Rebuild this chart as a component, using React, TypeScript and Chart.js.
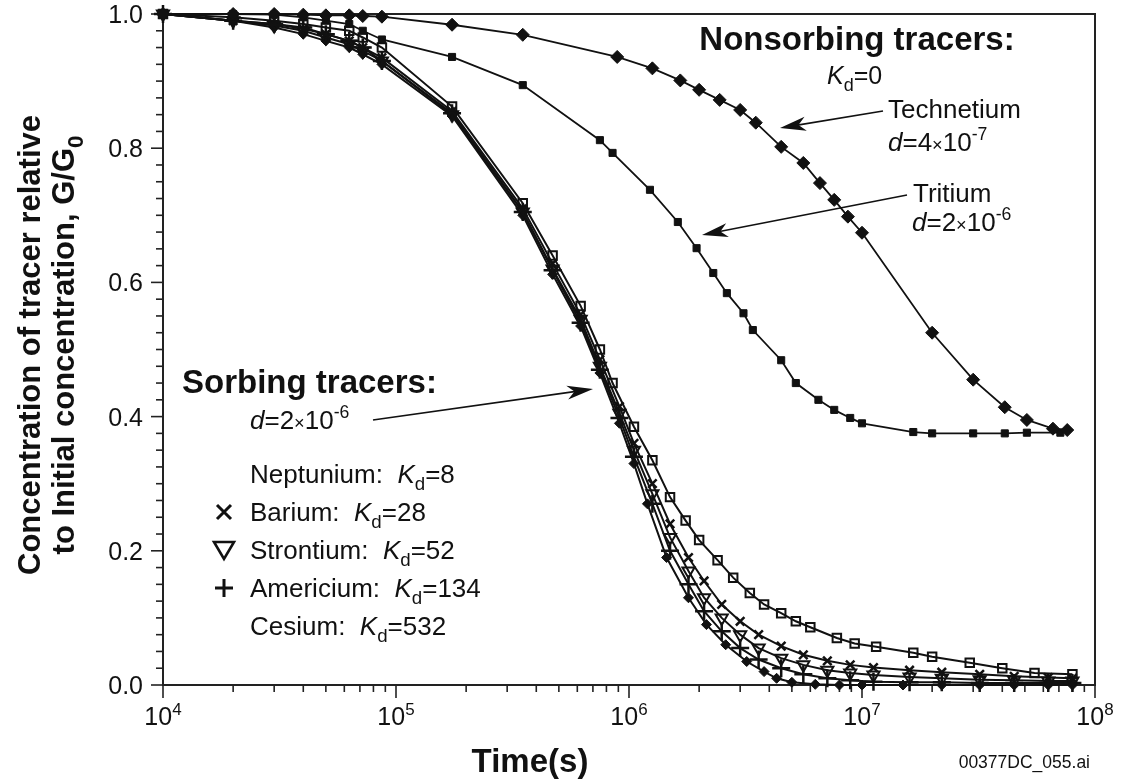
import { useEffect, useRef } from 'react';
import { Chart, registerables } from 'chart.js';

Chart.register(...registerables);

const FONT = '"Liberation Sans", Arial, Helvetica, sans-serif';

// ---------- axis ticks ----------
const yTickValues = [0, 0.2, 0.4, 0.6, 0.8, 1.0];
const yTickLabels = ['0.0', '0.2', '0.4', '0.6', '0.8', '1.0'];
const xDecades = [1e4, 1e5, 1e6, 1e7, 1e8];
const xExponents = ['4', '5', '6', '7', '8'];

// ---------- nonsorbing tracers ----------
const technetiumT = [1e4, 2e4, 3e4, 4e4, 5e4, 6.3e4, 7.2e4, 8.7e4, 1.74e5, 3.5e5, 8.9e5, 1.26e6, 1.66e6, 2.0e6, 2.45e6, 3.0e6, 3.5e6, 4.5e6, 5.6e6, 6.6e6, 7.6e6, 8.7e6, 1.0e7, 2.0e7, 3.0e7, 4.1e7, 5.1e7, 6.6e7, 7.6e7];
const technetiumG = [1.0, 1.0, 1.0, 0.999, 0.998, 0.998, 0.997, 0.996, 0.984, 0.969, 0.936, 0.919, 0.901, 0.887, 0.872, 0.857, 0.838, 0.802, 0.778, 0.748, 0.723, 0.698, 0.674, 0.525, 0.455, 0.414, 0.395, 0.382, 0.380];

const tritiumT = [1e4, 2e4, 3e4, 4e4, 5e4, 6.3e4, 7.2e4, 8.7e4, 1.74e5, 3.5e5, 7.5e5, 8.5e5, 1.23e6, 1.62e6, 1.95e6, 2.3e6, 2.63e6, 3.1e6, 3.4e6, 4.5e6, 5.2e6, 6.5e6, 7.6e6, 8.9e6, 1.0e7, 1.66e7, 2.0e7, 3.0e7, 4.1e7, 5.1e7, 7.1e7];
const tritiumG = [1.0, 1.0, 0.999, 0.995, 0.99, 0.985, 0.975, 0.962, 0.936, 0.894, 0.812, 0.793, 0.738, 0.69, 0.651, 0.614, 0.584, 0.554, 0.529, 0.484, 0.45, 0.425, 0.41, 0.398, 0.39, 0.377, 0.375, 0.375, 0.375, 0.376, 0.376];

// ---------- sorbing tracers ----------
const neptuniumT = [1e4, 2e4, 3e4, 4e4, 5e4, 6.3e4, 7.2e4, 8.7e4, 1.74e5, 3.5e5, 4.7e5, 6.2e5, 7.5e5, 8.5e5, 1.05e6, 1.26e6, 1.5e6, 1.75e6, 2.0e6, 2.4e6, 2.8e6, 3.3e6, 3.8e6, 4.5e6, 5.2e6, 6.0e6, 7.8e6, 9.3e6, 1.15e7, 1.66e7, 2.0e7, 2.9e7, 4.0e7, 5.5e7, 8.0e7];
const neptuniumG = [1.0, 0.995, 0.99, 0.985, 0.98, 0.975, 0.965, 0.95, 0.862, 0.718, 0.64, 0.565, 0.5, 0.45, 0.385, 0.335, 0.28, 0.245, 0.216, 0.186, 0.16, 0.137, 0.12, 0.107, 0.095, 0.086, 0.07, 0.062, 0.057, 0.048, 0.042, 0.033, 0.025, 0.018, 0.016];

const bariumT = [1e4, 2e4, 3e4, 4e4, 5e4, 6.3e4, 7.2e4, 8.7e4, 1.74e5, 3.5e5, 4.7e5, 6.2e5, 7.5e5, 9.1e5, 1.05e6, 1.26e6, 1.5e6, 1.8e6, 2.1e6, 2.5e6, 3.0e6, 3.6e6, 4.5e6, 5.6e6, 7.1e6, 8.9e6, 1.12e7, 1.6e7, 2.2e7, 3.2e7, 4.5e7, 6.3e7, 8.0e7];
const bariumG = [1.0, 0.99, 0.985, 0.978, 0.97, 0.96, 0.95, 0.935, 0.855, 0.71, 0.628, 0.552, 0.485, 0.415, 0.36, 0.3, 0.24, 0.19, 0.155, 0.12, 0.095, 0.075, 0.058, 0.045, 0.036, 0.03, 0.026, 0.022, 0.019, 0.016, 0.013, 0.011, 0.01];

const strontiumT = [1e4, 2e4, 3e4, 4e4, 5e4, 6.3e4, 7.2e4, 8.7e4, 1.74e5, 3.5e5, 4.7e5, 6.2e5, 7.5e5, 9.1e5, 1.05e6, 1.26e6, 1.5e6, 1.8e6, 2.1e6, 2.5e6, 3.0e6, 3.6e6, 4.5e6, 5.6e6, 7.1e6, 8.9e6, 1.12e7, 1.6e7, 2.2e7, 3.2e7, 4.5e7, 6.3e7, 8.0e7];
const strontiumG = [1.0, 0.99, 0.983, 0.975, 0.965, 0.955, 0.945, 0.93, 0.85, 0.705, 0.62, 0.545, 0.475, 0.405, 0.35, 0.285, 0.22, 0.17, 0.13, 0.1, 0.075, 0.055, 0.04, 0.03, 0.022, 0.018, 0.015, 0.012, 0.01, 0.008, 0.007, 0.006, 0.006];

const americiumT = [1e4, 2e4, 3e4, 4e4, 5e4, 6.3e4, 7.2e4, 8.7e4, 1.74e5, 3.5e5, 4.7e5, 6.2e5, 7.5e5, 9.1e5, 1.05e6, 1.26e6, 1.5e6, 1.8e6, 2.1e6, 2.5e6, 3.0e6, 3.6e6, 4.5e6, 5.6e6, 7.1e6, 8.9e6, 1.12e7, 1.6e7, 2.2e7, 3.2e7, 4.5e7, 6.3e7, 8.0e7];
const americiumG = [1.0, 0.99, 0.985, 0.98, 0.97, 0.96, 0.95, 0.93, 0.852, 0.705, 0.618, 0.54, 0.47, 0.398, 0.34, 0.27, 0.2, 0.15, 0.11, 0.08, 0.055, 0.038, 0.025, 0.016, 0.01, 0.007, 0.005, 0.004, 0.004, 0.003, 0.003, 0.003, 0.003];

const cesiumT = [1e4, 2e4, 3e4, 4e4, 5e4, 6.3e4, 7.2e4, 8.7e4, 1.74e5, 3.5e5, 4.7e5, 6.2e5, 7.5e5, 9.1e5, 1.05e6, 1.2e6, 1.45e6, 1.8e6, 2.15e6, 2.6e6, 3.2e6, 3.8e6, 4.3e6, 5.0e6, 6.3e6, 8.0e6, 1.0e7, 1.5e7, 2.2e7, 3.2e7, 4.5e7, 6.3e7, 8.0e7];
const cesiumG = [1.0, 0.99, 0.98, 0.97, 0.96, 0.95, 0.94, 0.925, 0.848, 0.7, 0.612, 0.535, 0.465, 0.39, 0.33, 0.27, 0.19, 0.13, 0.09, 0.06, 0.035, 0.02, 0.01, 0.004, 0.001, 0, 0, 0, 0, 0, 0, 0, 0];

// ---------- legend / annotation text ----------
const legendNames = ['Neptunium:', 'Barium:', 'Strontium:', 'Americium:', 'Cesium:'];
const legendKd = ['8', '28', '52', '134', '532'];
const legendSymbols = ['', 'x', 'v', '+', ''];

type Seg = { t: string; b?: boolean; i?: boolean; sub?: boolean; sup?: boolean; s?: number };

function fontOf(seg: Seg, size: number) {
  let sz = size;
  if (seg.sub) sz = size * 0.72;
  if (seg.sup) sz = size * 0.68;
  if (seg.s) sz = size * seg.s;
  return `${seg.i ? 'italic ' : ''}${seg.b ? 'bold ' : ''}${sz}px ${FONT}`;
}

function richWidth(ctx: CanvasRenderingContext2D, segs: Seg[], size: number) {
  let w = 0;
  for (const s of segs) {
    ctx.font = fontOf(s, size);
    w += ctx.measureText(s.t).width;
  }
  return w;
}

function drawRich(ctx: CanvasRenderingContext2D, segs: Seg[], x: number, y: number, size: number, align: 'left' | 'center' | 'right' = 'left') {
  const w = richWidth(ctx, segs, size);
  let cx = x;
  if (align === 'center') cx = x - w / 2;
  if (align === 'right') cx = x - w;
  ctx.textAlign = 'left';
  ctx.textBaseline = 'alphabetic';
  for (const s of segs) {
    ctx.font = fontOf(s, size);
    let dy = 0;
    if (s.sub) dy = size * 0.28;
    if (s.sup) dy = -size * 0.42;
    ctx.fillText(s.t, cx, y + dy);
    cx += ctx.measureText(s.t).width;
  }
}

function arrow(ctx: CanvasRenderingContext2D, x1: number, y1: number, x2: number, y2: number) {
  const a = Math.atan2(y2 - y1, x2 - x1);
  const L = 26, W = 7;
  const dx = Math.cos(a), dy = Math.sin(a);
  const px = -dy, py = dx;
  ctx.beginPath();
  ctx.moveTo(x1, y1);
  ctx.lineTo(x2 - dx * 10, y2 - dy * 10);
  ctx.lineWidth = 1.6;
  ctx.strokeStyle = '#111';
  ctx.stroke();
  ctx.beginPath();
  ctx.moveTo(x2, y2);
  ctx.lineTo(x2 - dx * L + px * W, y2 - dy * L + py * W);
  ctx.lineTo(x2 - dx * L * 0.72, y2 - dy * L * 0.72);
  ctx.lineTo(x2 - dx * L - px * W, y2 - dy * L - py * W);
  ctx.closePath();
  ctx.fillStyle = '#111';
  ctx.fill();
}

const frameAndTicks = {
  id: 'frameAndTicks',
  beforeDatasetsDraw(chart: any) {
    const { ctx, chartArea: ca, scales } = chart;
    const xs = scales.x, ys = scales.y;
    ctx.save();
    ctx.strokeStyle = '#222';
    ctx.lineWidth = 2;
    ctx.strokeRect(ca.left, ca.top, ca.right - ca.left, ca.bottom - ca.top);
    ctx.lineWidth = 1.6;
    for (let i = 0; i <= 40; i++) {
      const v = i * 0.025;
      const py = ys.getPixelForValue(v);
      const major = i % 8 === 0;
      ctx.beginPath();
      ctx.moveTo(ca.left, py);
      ctx.lineTo(ca.left - (major ? 12 : 7), py);
      ctx.stroke();
    }
    for (let d = 0; d < xDecades.length; d++) {
      const base = xDecades[d];
      const px = xs.getPixelForValue(base);
      ctx.beginPath();
      ctx.moveTo(px, ca.bottom);
      ctx.lineTo(px, ca.bottom + 13);
      ctx.stroke();
      if (d < xDecades.length - 1) {
        for (let m = 2; m <= 9; m++) {
          const p = xs.getPixelForValue(base * m);
          ctx.beginPath();
          ctx.moveTo(p, ca.bottom);
          ctx.lineTo(p, ca.bottom + 7);
          ctx.stroke();
        }
      }
    }
    ctx.restore();
  },
  afterDraw(chart: any) {
    const { ctx, chartArea: ca, scales } = chart;
    const xs = scales.x, ys = scales.y;
    ctx.save();
    ctx.fillStyle = '#111';
    for (let i = 0; i < yTickValues.length; i++) {
      const py = ys.getPixelForValue(yTickValues[i]);
      drawRich(ctx, [{ t: yTickLabels[i] }], ca.left - 20, py + 9, 25, 'right');
    }
    for (let i = 0; i < xDecades.length; i++) {
      const px = xs.getPixelForValue(xDecades[i]);
      drawRich(ctx, [{ t: '10' }, { t: xExponents[i], sup: true }], px, ca.bottom + 40, 25, 'center');
    }
    drawRich(ctx, [{ t: 'Time(s)', b: true }], 530, 772, 33, 'center');
    drawRich(ctx, [{ t: '00377DC_055.ai' }], 1090, 768, 17.5, 'right');
    ctx.save();
    ctx.translate(0, 345);
    ctx.rotate(-Math.PI / 2);
    drawRich(ctx, [{ t: 'Concentration of tracer relative', b: true }], 0, 40, 31, 'center');
    drawRich(ctx, [{ t: 'to Initial concentration, G/G', b: true }, { t: '0', b: true, sub: true }], 0, 74, 31, 'center');
    ctx.restore();

    drawRich(ctx, [{ t: 'Nonsorbing tracers:', b: true }], 857, 50, 33, 'center');
    drawRich(ctx, [{ t: 'K', i: true }, { t: 'd', sub: true }, { t: '=0' }], 827, 84, 25);
    drawRich(ctx, [{ t: 'Technetium' }], 888, 118, 26);
    drawRich(ctx, [{ t: 'd', i: true }, { t: '=4' }, { t: '×', s: 0.7 }, { t: '10' }, { t: '-7', sup: true }], 888, 151, 26);
    drawRich(ctx, [{ t: 'Tritium' }], 913, 202, 26);
    drawRich(ctx, [{ t: 'd', i: true }, { t: '=2' }, { t: '×', s: 0.7 }, { t: '10' }, { t: '-6', sup: true }], 912, 231, 26);
    arrow(ctx, 883, 111, 780, 128);
    arrow(ctx, 907, 195, 702, 235);

    drawRich(ctx, [{ t: 'Sorbing tracers:', b: true }], 182, 393, 33);
    drawRich(ctx, [{ t: 'd', i: true }, { t: '=2' }, { t: '×', s: 0.7 }, { t: '10' }, { t: '-6', sup: true }], 250, 429, 26);
    arrow(ctx, 373, 420, 593, 389);

    for (let i = 0; i < legendNames.length; i++) {
      const cy = 474 + i * 38;
      drawRich(ctx, [{ t: legendNames[i] + '  ' }, { t: 'K', i: true }, { t: 'd', sub: true }, { t: '=' + legendKd[i] }], 250, cy + 9, 26);
      const sx = 224;
      ctx.strokeStyle = '#111';
      ctx.lineWidth = 3;
      ctx.beginPath();
      if (legendSymbols[i] === 'x') {
        ctx.moveTo(sx - 7, cy - 7); ctx.lineTo(sx + 7, cy + 7);
        ctx.moveTo(sx + 7, cy - 7); ctx.lineTo(sx - 7, cy + 7);
        ctx.stroke();
      } else if (legendSymbols[i] === '+') {
        ctx.moveTo(sx - 9, cy); ctx.lineTo(sx + 9, cy);
        ctx.moveTo(sx, cy - 9); ctx.lineTo(sx, cy + 9);
        ctx.stroke();
      } else if (legendSymbols[i] === 'v') {
        ctx.lineWidth = 2.6;
        ctx.moveTo(sx - 10, cy - 8); ctx.lineTo(sx + 10, cy - 8); ctx.lineTo(sx, cy + 9);
        ctx.closePath();
        ctx.stroke();
      }
    }
    ctx.restore();
  },
};

function pts(t: number[], g: number[]) {
  return t.map((x, i) => ({ x, y: g[i] }));
}

export default function App() {
  const ref = useRef<HTMLCanvasElement | null>(null);
  useEffect(() => {
    if (!ref.current) return;
    const black = '#111';
    const chart = new Chart(ref.current, {
      type: 'line',
      data: {
        datasets: [
          { label: 'Technetium', data: pts(technetiumT, technetiumG), borderColor: black, backgroundColor: black, borderWidth: 1.8, pointStyle: 'rectRot', pointRadius: 6.5, pointBorderWidth: 1, clip: false } as any,
          { label: 'Tritium', data: pts(tritiumT, tritiumG), borderColor: black, backgroundColor: black, borderWidth: 1.8, pointStyle: 'rect', pointRadius: 5, pointBorderWidth: 1, clip: false } as any,
          { label: 'Neptunium', data: pts(neptuniumT, neptuniumG), borderColor: black, backgroundColor: 'rgba(0,0,0,0)', borderWidth: 2, pointStyle: 'rect', pointRadius: 6, pointBorderWidth: 2, clip: false } as any,
          { label: 'Barium', data: pts(bariumT, bariumG), borderColor: black, backgroundColor: black, borderWidth: 2, pointStyle: 'crossRot', pointRadius: 6, pointBorderWidth: 2.5, clip: false } as any,
          { label: 'Strontium', data: pts(strontiumT, strontiumG), borderColor: black, backgroundColor: 'rgba(0,0,0,0)', borderWidth: 2, pointStyle: 'triangle', pointRotation: 180, pointRadius: 7, pointBorderWidth: 2, clip: false } as any,
          { label: 'Americium', data: pts(americiumT, americiumG), borderColor: black, backgroundColor: black, borderWidth: 2, pointStyle: 'cross', pointRadius: 9, pointBorderWidth: 2.5, clip: false } as any,
          { label: 'Cesium', data: pts(cesiumT, cesiumG), borderColor: black, backgroundColor: black, borderWidth: 2, pointStyle: 'rectRot', pointRadius: 5, pointBorderWidth: 1, clip: false } as any,
        ],
      },
      options: {
        responsive: false,
        animation: false,
        events: [],
        layout: { padding: { left: 163, right: 27, top: 14, bottom: 95 } },
        plugins: { legend: { display: false }, tooltip: { enabled: false } },
        elements: { line: { tension: 0 } },
        scales: {
          x: { type: 'logarithmic', min: 1e4, max: 1e8, display: false },
          y: { type: 'linear', min: 0, max: 1, display: false },
        },
      },
      plugins: [frameAndTicks],
    });
    return () => chart.destroy();
  }, []);
  return (
    <div style={{ position: 'fixed', left: 0, top: 0, width: 1122, height: 780, background: '#fff' }}>
      <canvas ref={ref} width={1122} height={780} style={{ width: 1122, height: 780, display: 'block' }} />
    </div>
  );
}
